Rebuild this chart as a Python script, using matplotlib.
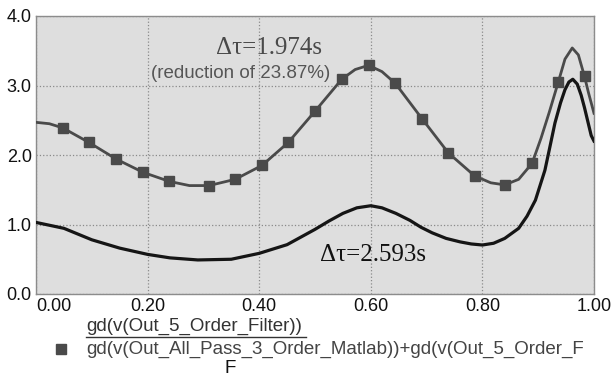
import matplotlib
matplotlib.use('Agg')
import matplotlib.pyplot as plt
from matplotlib.lines import Line2D

# ritardo di gruppo del filtro del 5 ordine (curva nera)
freq_filtro = [0.0, 0.05, 0.10, 0.15, 0.20, 0.24, 0.29, 0.35, 0.40, 0.45, 0.475,
               0.50, 0.525, 0.55, 0.575, 0.60, 0.62, 0.645, 0.67, 0.69, 0.71,
               0.735, 0.76, 0.78, 0.80, 0.82, 0.84, 0.865, 0.88, 0.895,
               0.912, 0.92, 0.93, 0.94, 0.948, 0.955, 0.962, 0.97, 0.977,
               0.983, 0.989, 0.995, 1.0]
gd_filtro = [1.03, 0.945, 0.78, 0.66, 0.57, 0.52, 0.49, 0.50, 0.585, 0.71, 0.82,
             0.93, 1.05, 1.16, 1.24, 1.27, 1.24, 1.16, 1.06, 0.96, 0.88,
             0.80, 0.75, 0.72, 0.705, 0.73, 0.80, 0.945, 1.12, 1.35,
             1.78, 2.08, 2.46, 2.75, 2.94, 3.05, 3.09, 3.02, 2.86,
             2.68, 2.48, 2.28, 2.20]

# filtro + all pass del 3 ordine (curva grigia)
freq_totale = [0.0, 0.024, 0.048, 0.095, 0.144, 0.192, 0.239, 0.275, 0.310, 0.357,
               0.405, 0.452, 0.500, 0.548, 0.572, 0.596, 0.62, 0.644, 0.692,
               0.739, 0.786, 0.815, 0.840, 0.865, 0.889, 0.905, 0.92, 0.936,
               0.948, 0.961, 0.972, 0.983, 0.99, 1.0]
gd_totale = [2.47, 2.45, 2.39, 2.18, 1.94, 1.75, 1.62, 1.56, 1.56, 1.65,
             1.85, 2.18, 2.63, 3.09, 3.23, 3.29, 3.20, 3.03, 2.52,
             2.03, 1.70, 1.60, 1.57, 1.65, 1.88, 2.24, 2.62, 3.05,
             3.38, 3.54, 3.44, 3.13, 2.90, 2.60]

# punti dei marker quadrati
marker_x = [0.048, 0.095, 0.144, 0.192, 0.239, 0.310, 0.357, 0.405, 0.452, 0.500,
            0.548, 0.596, 0.644, 0.692, 0.739, 0.786, 0.840, 0.889, 0.936, 0.983]
marker_y = [2.39, 2.18, 1.94, 1.75, 1.62, 1.56, 1.65, 1.85, 2.18, 2.63,
            3.09, 3.29, 3.03, 2.52, 2.03, 1.70, 1.57, 1.88, 3.05, 3.13]

xticks = [0.0, 0.2, 0.4, 0.6, 0.8, 1.0]
xticklabels = ['0.00', '0.20', '0.40', '0.60', '0.80', '1.00']
yticks = [0.0, 1.0, 2.0, 3.0, 4.0]
yticklabels = ['0.0', '1.0', '2.0', '3.0', '4.0']

legenda_1 = 'gd(v(Out_5_Order_Filter))'
legenda_2 = 'gd(v(Out_All_Pass_3_Order_Matlab))+gd(v(Out_5_Order_F'

plt.rcParams['font.family'] = ['Liberation Sans', 'DejaVu Sans']

fig = plt.figure(figsize=(6.13, 3.78), dpi=100)
ax = fig.add_axes([36/613, 1 - 294/378, 558/613, 278/378])
ax.set_facecolor('#dedede')

grigio = '#4a4a4a'
ax.plot(freq_filtro, gd_filtro, color='#151515', linewidth=2.3, zorder=3)
ax.plot(freq_totale, gd_totale, color=grigio, linewidth=2.0, zorder=3)
ax.plot(marker_x, marker_y, 's', color=grigio, markersize=6.5, zorder=4)

ax.set_xlim(0, 1)
ax.set_ylim(0, 4)
ax.set_xticks(xticks)
ax.set_xticklabels(xticklabels)
ax.set_yticks(yticks)
ax.set_yticklabels(yticklabels)
ax.tick_params(length=0, labelsize=13, pad=3, colors='#111111')
ax.get_xticklabels()[0].set_horizontalalignment('left')
ax.grid(True, linestyle=':', color='#8a8a8a', linewidth=0.9)
for s in ax.spines.values():
    s.set_color('#8c8c8c')
    s.set_linewidth(1.0)

# annotazioni
ax.text(0.418, 3.54, 'Δτ=1.974s', fontsize=18, color=grigio,
        family=['Liberation Serif'], ha='center', va='center')
ax.text(0.366, 3.17, '(reduction of 23.87%)', fontsize=13.5, color='#555555',
        ha='center', va='center')
ax.text(0.604, 0.56, 'Δτ=2.593s', fontsize=18, color='#111111',
        family=['Liberation Serif'], ha='center', va='center')

# legenda sotto il grafico
fig.text(86/613, 1 - 326/378, legenda_1, fontsize=13.5, color='#333333', va='center')
fig.add_artist(Line2D([86/613, 306/613], [1 - 337/378, 1 - 337/378],
                      color='#333333', linewidth=1))
fig.add_artist(Line2D([61/613], [1 - 349/378], marker='s', color=grigio,
                      markersize=6.5, linestyle=''))
fig.text(86/613, 1 - 349/378, legenda_2, fontsize=13.5, color='#444444', va='center')
fig.text(225/613, 1 - 377/378, 'F', fontsize=13.5, color='#111111', va='bottom')

fig.savefig('out.png', dpi=100)
